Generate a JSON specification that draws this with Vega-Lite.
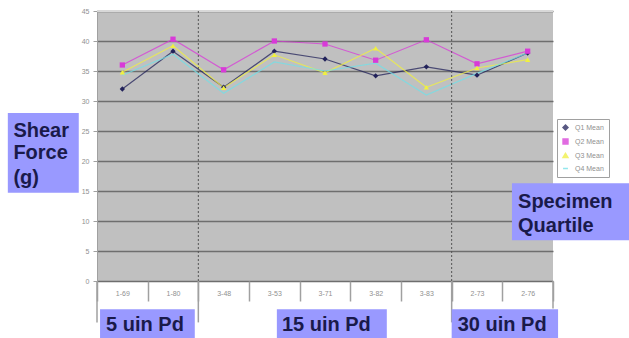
{
  "$schema": "https://vega.github.io/schema/vega-lite/v6.json",
  "width": 456,
  "height": 270,
  "autosize": "none",
  "padding": {"left": 97, "top": 11, "right": 76, "bottom": 57},
  "background": "white",
  "config": {
    "view": {"fill": "#C0C0C0", "stroke": null},
    "font": "Liberation Sans",
    "axisY": {
      "title": null, "tickCount": 10,
      "labelFontSize": 7, "labelColor": "#909090", "domainColor": "#a0a0a0",
      "tickColor": "#a0a0a0", "tickSize": 4, "labelPadding": 4,
      "grid": true, "gridColor": "#6e6e6e", "gridWidth": 1.5
    }
  },
  "datasets": {
    "means": [
      {"sample": "1-69", "q": "Q1 Mean", "value": 32.0},
      {"sample": "1-80", "q": "Q1 Mean", "value": 38.3},
      {"sample": "3-48", "q": "Q1 Mean", "value": 32.3},
      {"sample": "3-53", "q": "Q1 Mean", "value": 38.3},
      {"sample": "3-71", "q": "Q1 Mean", "value": 37.0},
      {"sample": "3-82", "q": "Q1 Mean", "value": 34.2},
      {"sample": "3-83", "q": "Q1 Mean", "value": 35.7},
      {"sample": "2-73", "q": "Q1 Mean", "value": 34.3},
      {"sample": "2-76", "q": "Q1 Mean", "value": 38.0},
      {"sample": "1-69", "q": "Q2 Mean", "value": 36.0},
      {"sample": "1-80", "q": "Q2 Mean", "value": 40.3},
      {"sample": "3-48", "q": "Q2 Mean", "value": 35.2},
      {"sample": "3-53", "q": "Q2 Mean", "value": 40.0},
      {"sample": "3-71", "q": "Q2 Mean", "value": 39.5},
      {"sample": "3-82", "q": "Q2 Mean", "value": 36.8},
      {"sample": "3-83", "q": "Q2 Mean", "value": 40.2},
      {"sample": "2-73", "q": "Q2 Mean", "value": 36.2},
      {"sample": "2-76", "q": "Q2 Mean", "value": 38.3},
      {"sample": "1-69", "q": "Q3 Mean", "value": 34.8},
      {"sample": "1-80", "q": "Q3 Mean", "value": 39.2},
      {"sample": "3-48", "q": "Q3 Mean", "value": 32.2},
      {"sample": "3-53", "q": "Q3 Mean", "value": 37.7},
      {"sample": "3-71", "q": "Q3 Mean", "value": 34.7},
      {"sample": "3-82", "q": "Q3 Mean", "value": 38.8},
      {"sample": "3-83", "q": "Q3 Mean", "value": 32.3},
      {"sample": "2-73", "q": "Q3 Mean", "value": 35.5},
      {"sample": "2-76", "q": "Q3 Mean", "value": 36.9},
      {"sample": "1-69", "q": "Q4 Mean", "value": 34.3},
      {"sample": "1-80", "q": "Q4 Mean", "value": 37.8},
      {"sample": "3-48", "q": "Q4 Mean", "value": 31.3},
      {"sample": "3-53", "q": "Q4 Mean", "value": 36.5},
      {"sample": "3-71", "q": "Q4 Mean", "value": 35.0},
      {"sample": "3-82", "q": "Q4 Mean", "value": 36.3},
      {"sample": "3-83", "q": "Q4 Mean", "value": 31.0},
      {"sample": "2-73", "q": "Q4 Mean", "value": 34.6},
      {"sample": "2-76", "q": "Q4 Mean", "value": 38.0}
    ],
    "boxes": [
      {"name": "shear", "x1": -1.76, "x2": -0.36, "y1": 28.0, "y2": 14.7},
      {"name": "specimen", "x1": 8.19, "x2": 10.6, "y1": 16.3, "y2": 6.8},
      {"name": "g5", "x1": 0.06, "x2": 1.93, "y1": -4.7, "y2": -9.6},
      {"name": "g15", "x1": 3.55, "x2": 5.72, "y1": -4.7, "y2": -9.6},
      {"name": "g30", "x1": 7.0, "x2": 9.1, "y1": -4.7, "y2": -9.6}
    ],
    "texts": [
      {"label": "Shear", "x": -1.65, "y": 25.0},
      {"label": "Force", "x": -1.65, "y": 21.3},
      {"label": "(g)", "x": -1.65, "y": 17.2},
      {"label": "Specimen", "x": 8.31, "y": 13.2},
      {"label": "Quartile", "x": 8.31, "y": 9.2},
      {"label": "5 uin Pd", "x": 0.18, "y": -7.3},
      {"label": "15 uin Pd", "x": 3.65, "y": -7.3},
      {"label": "30 uin Pd", "x": 7.12, "y": -7.3}
    ],
    "dotted": [
      {"x": 2, "y1": 45, "y2": 0},
      {"x": 7, "y1": 45, "y2": 0}
    ],
    "solid": [
      {"x": 0, "y1": 0, "y2": -6.9},
      {"x": 2, "y1": 0, "y2": -6.9},
      {"x": 7, "y1": 0, "y2": -6.9},
      {"x": 9, "y1": 0, "y2": -4.6}
    ],
    "top": [
      {"y": 45}
    ]
  },
  "layer": [
    {
      "data": {"name": "means"},
      "mark": {"type": "line", "strokeWidth": 1.2, "opacity": 0.75},
      "encoding": {
        "x": {
          "field": "sample", "type": "nominal",
          "sort": ["1-69", "1-80", "3-48", "3-53", "3-71", "3-82", "3-83", "2-73", "2-76"],
          "scale": {"type": "band", "paddingInner": 0, "paddingOuter": 0},
          "axis": {
            "title": null, "labelAngle": 0, "labelFontSize": 7, "labelColor": "#909090",
            "domain": false, "ticks": true, "tickBand": "extent", "tickSize": 20,
            "tickColor": "#a0a0a0", "tickWidth": 1.5, "labelPadding": -12, "grid": false
          }
        },
        "y": {
          "field": "value", "type": "quantitative",
          "scale": {"domain": [0, 45], "nice": false, "zero": false}
        },
        "color": {
          "field": "q", "type": "nominal",
          "scale": {"domain": ["Q1 Mean", "Q2 Mean", "Q3 Mean", "Q4 Mean"], "range": ["#22225a", "#d83ad8", "#f0f040", "#70e0e8"]},
          "legend": {
            "title": null, "orient": "none", "legendX": 460, "legendY": 108,
            "labelFontSize": 7, "labelColor": "#909090", "symbolSize": 24,
            "strokeColor": "#a0a0a0", "fillColor": "white", "padding": 5,
            "rowPadding": 3, "labelOffset": 6
          }
        }
      }
    },
    {
      "data": {"name": "means"},
      "mark": {"type": "point", "filled": true, "size": 28, "opacity": 1},
      "encoding": {
        "x": {
          "field": "sample", "type": "nominal",
          "sort": ["1-69", "1-80", "3-48", "3-53", "3-71", "3-82", "3-83", "2-73", "2-76"],
          "scale": {"type": "band", "paddingInner": 0, "paddingOuter": 0},
          "axis": null
        },
        "y": {"field": "value", "type": "quantitative"},
        "color": {"field": "q", "type": "nominal"},
        "shape": {
          "field": "q", "type": "nominal",
          "scale": {"domain": ["Q1 Mean", "Q2 Mean", "Q3 Mean", "Q4 Mean"], "range": ["diamond", "square", "triangle-up", "stroke"]}
        }
      }
    },
    {
      "data": {"name": "top"},
      "mark": {"type": "rule", "color": "#d8d8d8", "strokeWidth": 2},
      "encoding": {
        "y": {"field": "y", "type": "quantitative"}
      }
    },
    {
      "data": {"name": "dotted"},
      "mark": {"type": "rule", "color": "#555555", "strokeDash": [2, 2], "strokeWidth": 1},
      "encoding": {
        "x": {"field": "x", "type": "quantitative", "scale": {"domain": [0, 9], "nice": false}, "axis": null},
        "y": {"field": "y1", "type": "quantitative"},
        "y2": {"field": "y2"}
      }
    },
    {
      "data": {"name": "solid"},
      "mark": {"type": "rule", "color": "#a0a0a0", "strokeWidth": 1.5},
      "encoding": {
        "x": {"field": "x", "type": "quantitative", "scale": {"domain": [0, 9], "nice": false}, "axis": null},
        "y": {"field": "y1", "type": "quantitative"},
        "y2": {"field": "y2"}
      }
    },
    {
      "data": {"name": "boxes"},
      "mark": {"type": "rect", "fill": "#9999ff"},
      "encoding": {
        "x": {"field": "x1", "type": "quantitative", "scale": {"domain": [0, 9], "nice": false}, "axis": null},
        "x2": {"field": "x2"},
        "y": {"field": "y1", "type": "quantitative"},
        "y2": {"field": "y2"}
      }
    },
    {
      "data": {"name": "texts"},
      "mark": {"type": "text", "align": "left", "baseline": "middle", "fontSize": 20, "fontWeight": "bold", "color": "#1a1a4a", "font": "Liberation Sans"},
      "encoding": {
        "x": {"field": "x", "type": "quantitative", "scale": {"domain": [0, 9], "nice": false}, "axis": null},
        "y": {"field": "y", "type": "quantitative"},
        "text": {"field": "label"}
      }
    }
  ],
  "resolve": {"scale": {"x": "independent"}}
}
